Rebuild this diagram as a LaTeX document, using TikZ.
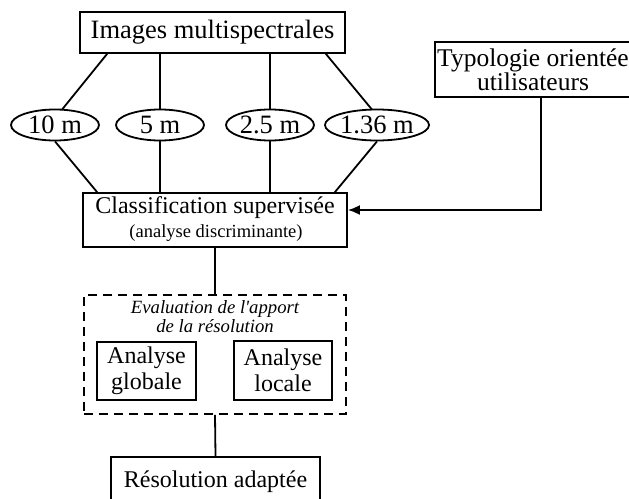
\documentclass[tikz,border=0pt]{standalone}
\usepackage{fontspec}
\setmainfont{Liberation Serif}[Ligatures=TeXOff]
\usetikzlibrary{shapes.geometric,arrows.meta,calc}
\tikzset{
  box/.style={draw, line width=1.8pt, inner sep=0pt, align=center, font=\fontsize{24}{26}\selectfont},
  oval/.style={draw, ellipse, line width=1.8pt, inner sep=0pt, minimum width=88pt, minimum height=31pt, font=\fontsize{26.5}{28}\selectfont},
  link/.style={line width=1.8pt},
  txt/.style={inner sep=0pt, align=center}
}
\begin{document}
\begin{tikzpicture}[x=1pt,y=-1pt]
\useasboundingbox (0,0) rectangle (629,498);
% top box
\node[box, minimum width=265pt, minimum height=41pt, font=\fontsize{26.5}{28}\selectfont] (img) at (212.5,32.5) {Images multispectrales};
\node[box, minimum width=200pt, minimum height=55pt] (typo) at (535,69.5) {};
\node[txt, font=\fontsize{25.5}{24}\selectfont] (typot) at (533,69.5) {Typologie orientée\\utilisateurs};
% ellipses
\node[oval] (e1) at (55,125) {10 m};
\node[oval] (e2) at (160,125) {5 m};
\node[oval] (e3) at (270,125) {2.5 m};
\node[oval] (e4) at (377,125) {1.36 m};
% classification
\node[box, minimum width=264pt, minimum height=54pt] (cls) at (215,220) {};
\node[txt, font=\fontsize{24}{26}\selectfont] (clst) at (215,208) {Classification supervisée};
\node[txt, font=\fontsize{18.5}{20}\selectfont] (clss) at (216,233) {(analyse discriminante)};
% dashed evaluation box
\node[draw, dashed, dash pattern=on 9pt off 6pt, line width=1.8pt, minimum width=262pt, minimum height=119pt, inner sep=0pt] (eval) at (215,354.5) {};
\node[txt, font=\itshape\fontsize{18.7}{19}\selectfont] (evalt) at (215,317) {Evaluation de l'apport\\de la résolution};
\node[box, minimum width=99pt, minimum height=58pt] (glob) at (146.5,371) {Analyse\\globale};
\node[box, minimum width=98pt, minimum height=59pt] (loc) at (283,370.5) {Analyse\\locale};
% result
\node[box, minimum width=209pt, minimum height=50pt] (res) at (215.5,482) {Résolution adaptée};
% connectors
\draw[link] ([xshift=28pt]img.south west) -- ($(e1.north)+(7,1)$);
\draw[link] (img.south -| e2.north) -- (e2.north);
\draw[link] (img.south -| e3.north) -- (e3.north);
\draw[link] ([xshift=-20pt]img.south east) -- ($(e4.north)+(-5,1)$);
\draw[link] (e1.south) -- ([xshift=15pt]cls.north west);
\draw[link] (e2.south) -- (cls.north -| e2.south);
\draw[link] (e3.south) -- (cls.north -| e3.south);
\draw[link] (e4.south) -- ([xshift=-13pt]cls.north east);
\draw[link, -{Latex[length=12pt,width=10pt]}] ([xshift=6pt]typo.south) |- ([yshift=10pt]cls.east);
\draw[link] (cls.south) -- (eval.north);
\draw[link] (eval.south) -- (res.north);
\end{tikzpicture}
\end{document}
